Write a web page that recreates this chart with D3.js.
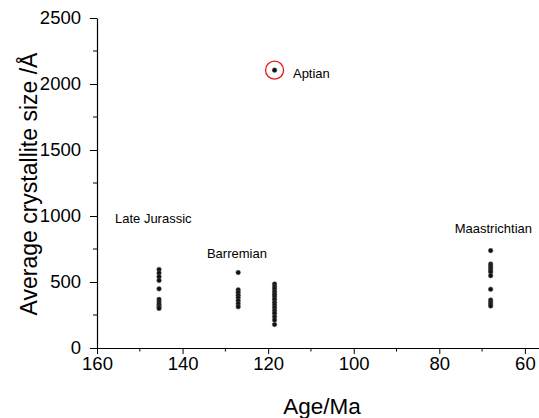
<!DOCTYPE html>
<html>
<head>
<meta charset="utf-8">
<script src="https://cdn.jsdelivr.net/npm/d3@7"></script>
<style>
  html, body { margin: 0; padding: 0; background: #fff; }
  svg { display: block; font-family: "Liberation Sans", Arial, sans-serif; }
</style>
</head>
<body>
<svg id="chart" width="539" height="418"></svg>
<script>
// Crystallite size measurements grouped by stratigraphic age
const lateJurassicAge = 145.5;
const lateJurassicSizes = [595, 568, 540, 512, 448, 368, 348, 330, 314, 300];
const barremianAge = 127;
const barremianSizes = [572, 440, 420, 400, 380, 358, 335, 312];
const aptianAge = 118.5;
const aptianSizes = [485, 464, 447, 426, 407, 389, 369, 346, 326, 305, 283, 263, 237, 212, 178];
const aptianOutlier = 2105;
const maastrichtianAge = 68;
const maastrichtianSizes = [738, 636, 621, 606, 591, 576, 548, 445, 364, 348, 333, 318];

const xTicks = [160, 140, 120, 100, 80, 60];
const yTicks = [0, 500, 1000, 1500, 2000, 2500];

const groupLabels = [
  { text: "Late Jurassic", age: 155.8, size: 985 },
  { text: "Barremian", age: 134.3, size: 720 },
  { text: "Aptian", age: 114.2, size: 2083 },
  { text: "Maastrichtian", age: 76.4, size: 909 }
];

const svg = d3.select("#chart");
const x = d3.scaleLinear().domain([160, 56.7]).range([97, 539]);
const y = d3.scaleLinear().domain([0, 2500]).range([348, 18]);

// Minor ticks
const xMinor = d3.range(150, 56, -20);
const yMinor = d3.range(250, 2500, 500);

const xAxis = svg.append("g").attr("transform", `translate(0,${y(0)})`);
xAxis.call(d3.axisBottom(x).tickValues(xTicks).tickFormat(d3.format("d"))
  .tickSize(6).tickPadding(3).tickSizeOuter(0));
xAxis.append("g").selectAll("line").data(xMinor).join("line")
  .attr("x1", d => x(d)).attr("x2", d => x(d)).attr("y1", 0).attr("y2", 3.5)
  .attr("stroke", "#000");

const yAxis = svg.append("g").attr("transform", `translate(${x(160)},0)`);
yAxis.call(d3.axisLeft(y).tickValues(yTicks).tickFormat(d3.format("d"))
  .tickSize(7).tickPadding(9).tickSizeOuter(0));
yAxis.append("g").selectAll("line").data(yMinor).join("line")
  .attr("y1", d => y(d)).attr("y2", d => y(d)).attr("x1", 0).attr("x2", -4)
  .attr("stroke", "#000");

svg.selectAll(".tick text").attr("font-size", 18.5).attr("fill", "#000")
  .attr("font-family", "Liberation Sans, Arial, sans-serif");
svg.selectAll(".tick line").attr("stroke", "#000");
svg.selectAll(".domain").attr("stroke", "#000").attr("stroke-width", 1.2);

// Axis titles
svg.append("text").attr("x", 322).attr("y", 414).attr("text-anchor", "middle")
  .attr("font-size", 22.5).text("Age/Ma");
svg.append("text").attr("transform", `translate(37,${y(1250) + 1}) rotate(-90)`)
  .attr("text-anchor", "middle").attr("font-size", 23)
  .text("Average crystallite size /Å");

// Points
const points = [].concat(
  lateJurassicSizes.map(v => [lateJurassicAge, v]),
  barremianSizes.map(v => [barremianAge, v]),
  aptianSizes.map(v => [aptianAge, v]),
  maastrichtianSizes.map(v => [maastrichtianAge, v]),
  [[aptianAge, aptianOutlier]]
);
svg.append("g").selectAll("circle").data(points).join("circle")
  .attr("cx", d => x(d[0])).attr("cy", d => y(d[1])).attr("r", 2.3)
  .attr("fill", "#111").attr("stroke", "#555").attr("stroke-width", 0.5);

// Highlight ring around the Aptian outlier
svg.append("circle").attr("cx", x(aptianAge)).attr("cy", y(aptianOutlier)).attr("r", 9)
  .attr("fill", "none").attr("stroke", "#e8141c").attr("stroke-width", 1.3);

// Group labels
svg.append("g").selectAll("text").data(groupLabels).join("text")
  .attr("x", d => x(d.age)).attr("y", d => y(d.size)).attr("dy", "0.35em")
  .attr("font-size", 13).attr("fill", "#000").text(d => d.text);
</script>
</body>
</html>
